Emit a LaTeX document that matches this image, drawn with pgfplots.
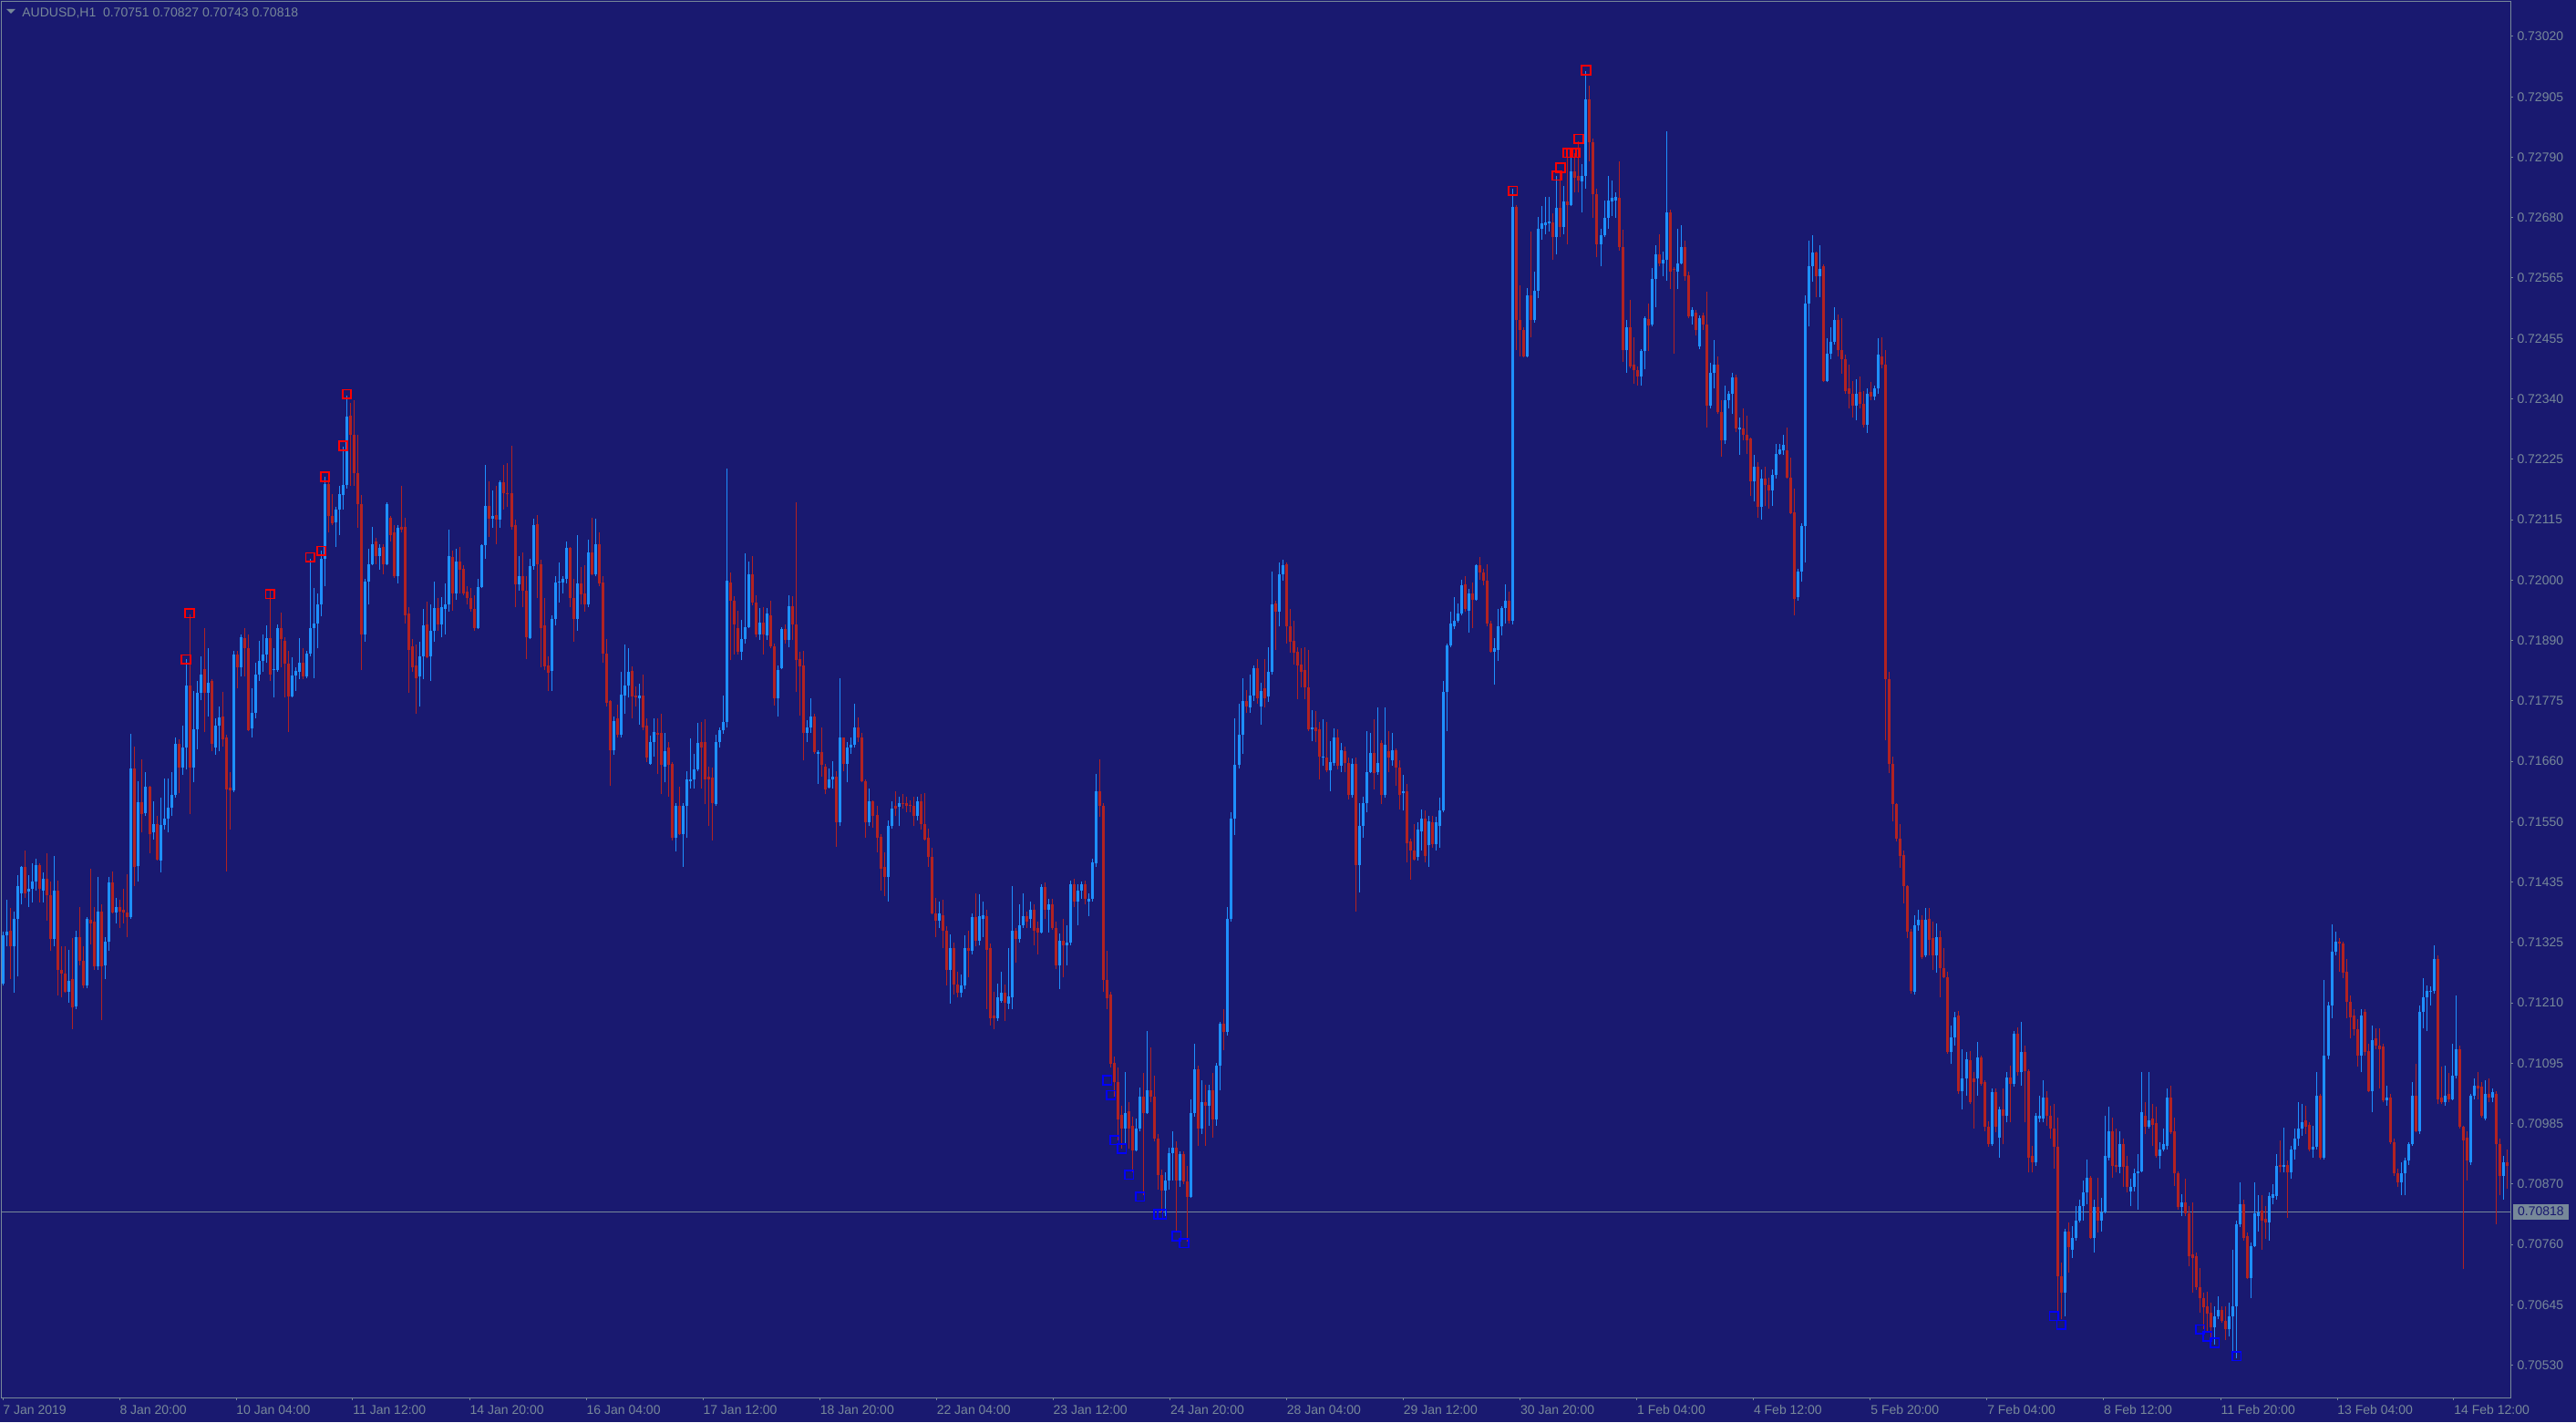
\documentclass[border=0pt]{standalone}
\usepackage{fontspec}
\setmainfont{Liberation Sans}
\usepackage{pgfplots}
\usepackage{pgfplotstable}
\pgfplotsset{compat=1.18}
\definecolor{bgcol}{RGB}{25,25,112}
\definecolor{fgcol}{RGB}{119,136,153}
\definecolor{bullc}{RGB}{30,144,255}
\definecolor{bearc}{RGB}{178,34,34}
\pgfplotstableread{
o h l c
0.71245 0.71342 0.71241 0.71336
0.71336 0.71402 0.71315 0.71342
0.71345 0.71387 0.71254 0.71315
0.71315 0.71380 0.71228 0.71367
0.71367 0.71448 0.71258 0.71428
0.71415 0.71465 0.71393 0.71463
0.71463 0.71494 0.71406 0.71415
0.71417 0.71448 0.71389 0.71423
0.71423 0.71471 0.71397 0.71436
0.71436 0.71480 0.71419 0.71467
0.71467 0.71471 0.71397 0.71423
0.71420 0.71454 0.71397 0.71441
0.71441 0.71489 0.71363 0.71411
0.71411 0.71436 0.71306 0.71328
0.71328 0.71484 0.71315 0.71420
0.71420 0.71438 0.71223 0.71271
0.71271 0.71315 0.71219 0.71264
0.71264 0.71315 0.71228 0.71230
0.71230 0.71309 0.71210 0.71251
0.71254 0.71330 0.71160 0.71200
0.71202 0.71345 0.71198 0.71332
0.71332 0.71389 0.71280 0.71287
0.71287 0.71315 0.71236 0.71241
0.71241 0.71369 0.71236 0.71367
0.71365 0.71460 0.71319 0.71358
0.71361 0.71389 0.71271 0.71277
0.71277 0.71445 0.71271 0.71380
0.71380 0.71393 0.71177 0.71277
0.71280 0.71332 0.71254 0.71323
0.71323 0.71445 0.71306 0.71435
0.71435 0.71456 0.71376 0.71378
0.71378 0.71406 0.71358 0.71389
0.71389 0.71402 0.71350 0.71380
0.71384 0.71423 0.71358 0.71378
0.71378 0.71450 0.71332 0.71369
0.71369 0.71713 0.71367 0.71649
0.71649 0.71690 0.71428 0.71463
0.71465 0.71624 0.71436 0.71585
0.71585 0.71665 0.71528 0.71563
0.71565 0.71642 0.71559 0.71614
0.71614 0.71615 0.71489 0.71526
0.71528 0.71587 0.71515 0.71544
0.71544 0.71559 0.71476 0.71478
0.71476 0.71594 0.71454 0.71543
0.71543 0.71629 0.71533 0.71554
0.71554 0.71629 0.71528 0.71574
0.71574 0.71642 0.71559 0.71598
0.71598 0.71707 0.71594 0.71694
0.71694 0.71703 0.71602 0.71650
0.71650 0.71729 0.71637 0.71688
0.71688 0.71853 0.71646 0.71803
0.71803 0.71937 0.71563 0.71650
0.71650 0.71794 0.71622 0.71722
0.71722 0.71812 0.71685 0.71790
0.71790 0.71859 0.71777 0.71825
0.71835 0.71912 0.71716 0.71790
0.71790 0.71873 0.71746 0.71809
0.71812 0.71815 0.71681 0.71694
0.71688 0.71742 0.71674 0.71729
0.71729 0.71764 0.71681 0.71744
0.71746 0.71791 0.71690 0.71703
0.71707 0.71711 0.71456 0.71609
0.71613 0.71642 0.71533 0.71607
0.71607 0.71868 0.71604 0.71862
0.71862 0.71868 0.71798 0.71838
0.71838 0.71899 0.71820 0.71894
0.71892 0.71912 0.71820 0.71873
0.71873 0.71899 0.71718 0.71720
0.71723 0.71798 0.71707 0.71753
0.71753 0.71846 0.71742 0.71824
0.71824 0.71888 0.71812 0.71850
0.71850 0.71899 0.71829 0.71862
0.71862 0.71916 0.71846 0.71892
0.71893 0.71984 0.71813 0.71825
0.71832 0.71873 0.71781 0.71835
0.71832 0.71918 0.71829 0.71912
0.71912 0.71940 0.71838 0.71890
0.71888 0.71894 0.71781 0.71844
0.71844 0.71868 0.71717 0.71783
0.71783 0.71857 0.71781 0.71822
0.71822 0.71838 0.71794 0.71831
0.71829 0.71892 0.71816 0.71846
0.71846 0.71873 0.71816 0.71820
0.71820 0.71868 0.71818 0.71864
0.71864 0.72042 0.71859 0.71912
0.71912 0.71986 0.71818 0.71920
0.71920 0.71977 0.71873 0.71955
0.71955 0.72056 0.71934 0.72042
0.72042 0.72195 0.71990 0.72182
0.72182 0.72186 0.72090 0.72121
0.72121 0.72162 0.72104 0.72108
0.72110 0.72138 0.72064 0.72134
0.72134 0.72178 0.72086 0.72162
0.72160 0.72252 0.72134 0.72179
0.72179 0.72347 0.72173 0.72308
0.72310 0.72334 0.72178 0.72273
0.72273 0.72339 0.72178 0.72202
0.72202 0.72273 0.72099 0.72144
0.72144 0.72160 0.71833 0.71899
0.71899 0.72003 0.71886 0.71999
0.71999 0.72060 0.71955 0.72031
0.72031 0.72101 0.72029 0.72069
0.72073 0.72080 0.72031 0.72047
0.72047 0.72069 0.72021 0.72062
0.72064 0.72069 0.72012 0.72031
0.72031 0.72147 0.72029 0.72143
0.72118 0.72121 0.72073 0.72086
0.72090 0.72104 0.72006 0.72008
0.72008 0.72104 0.71995 0.72099
0.72101 0.72178 0.72090 0.72095
0.72101 0.72118 0.71920 0.71935
0.71938 0.71951 0.71790 0.71871
0.71877 0.71890 0.71829 0.71838
0.71842 0.71881 0.71751 0.71818
0.71820 0.71886 0.71764 0.71859
0.71859 0.71947 0.71816 0.71916
0.71918 0.71961 0.71855 0.71857
0.71859 0.71955 0.71812 0.71906
0.71906 0.71999 0.71886 0.71949
0.71949 0.71968 0.71907 0.71918
0.71918 0.71970 0.71894 0.71951
0.71947 0.71995 0.71899 0.71955
0.71955 0.72095 0.71942 0.72047
0.72044 0.72056 0.71944 0.71977
0.71977 0.72060 0.71964 0.72036
0.72036 0.72064 0.71977 0.72021
0.72022 0.72029 0.71973 0.71977
0.71980 0.71990 0.71955 0.71968
0.71968 0.71986 0.71942 0.71948
0.71948 0.71973 0.71906 0.71912
0.71912 0.72003 0.71909 0.71988
0.71988 0.72069 0.71986 0.72067
0.72067 0.72217 0.72042 0.72140
0.72140 0.72186 0.72082 0.72117
0.72117 0.72169 0.72099 0.72121
0.72124 0.72178 0.72069 0.72115
0.72115 0.72188 0.72099 0.72185
0.72185 0.72217 0.72134 0.72164
0.72164 0.72221 0.72138 0.72162
0.72164 0.72253 0.72095 0.72101
0.72104 0.72115 0.71951 0.71993
0.71993 0.72047 0.71981 0.72008
0.72008 0.72053 0.71951 0.71981
0.71981 0.72008 0.71853 0.71894
0.71892 0.72042 0.71890 0.72028
0.72028 0.72117 0.72021 0.72104
0.72106 0.72124 0.71968 0.72031
0.72031 0.72040 0.71838 0.71912
0.71916 0.71968 0.71833 0.71839
0.71842 0.71859 0.71794 0.71827
0.71831 0.71935 0.71794 0.71929
0.71929 0.72008 0.71916 0.71996
0.71996 0.72034 0.71960 0.71999
0.71996 0.72009 0.71977 0.72003
0.72003 0.72073 0.71995 0.72062
0.72062 0.72064 0.71951 0.71968
0.71968 0.72003 0.71886 0.71929
0.71929 0.72086 0.71907 0.71995
0.71995 0.72025 0.71955 0.71975
0.71977 0.72029 0.71942 0.71955
0.71955 0.72077 0.71951 0.72053
0.72053 0.72118 0.72010 0.72012
0.72012 0.72117 0.72008 0.72069
0.72069 0.72090 0.71990 0.71995
0.71996 0.72008 0.71846 0.71864
0.71864 0.71890 0.71764 0.71772
0.71775 0.71777 0.71615 0.71683
0.71683 0.71746 0.71674 0.71737
0.71742 0.71768 0.71707 0.71711
0.71711 0.71829 0.71707 0.71787
0.71785 0.71881 0.71751 0.71803
0.71803 0.71874 0.71781 0.71829
0.71831 0.71839 0.71742 0.71784
0.71785 0.71802 0.71764 0.71782
0.71780 0.71807 0.71731 0.71785
0.71785 0.71824 0.71720 0.71726
0.71729 0.71742 0.71660 0.71668
0.71657 0.71709 0.71655 0.71698
0.71698 0.71742 0.71671 0.71717
0.71715 0.71742 0.71638 0.71711
0.71715 0.71750 0.71600 0.71655
0.71652 0.71715 0.71622 0.71680
0.71687 0.71698 0.71595 0.71655
0.71657 0.71660 0.71513 0.71518
0.71518 0.71584 0.71493 0.71578
0.71578 0.71614 0.71524 0.71526
0.71526 0.71584 0.71464 0.71578
0.71578 0.71644 0.71518 0.71627
0.71624 0.71704 0.71611 0.71627
0.71627 0.71676 0.71611 0.71647
0.71647 0.71733 0.71644 0.71696
0.71698 0.71736 0.71611 0.71687
0.71698 0.71740 0.71581 0.71627
0.71633 0.71652 0.71540 0.71627
0.71631 0.71650 0.71513 0.71584
0.71581 0.71711 0.71578 0.71698
0.71698 0.71726 0.71687 0.71720
0.71720 0.71785 0.71714 0.71736
0.71736 0.72210 0.71726 0.72000
0.71996 0.72016 0.71851 0.71963
0.71963 0.71971 0.71862 0.71919
0.71911 0.71943 0.71862 0.71867
0.71867 0.71927 0.71851 0.71891
0.71891 0.72052 0.71883 0.71913
0.71913 0.72036 0.71911 0.72012
0.72012 0.72047 0.71954 0.71960
0.71960 0.71973 0.71894 0.71900
0.71900 0.71949 0.71889 0.71922
0.71922 0.71951 0.71862 0.71900
0.71898 0.71949 0.71889 0.71938
0.71935 0.71963 0.71873 0.71878
0.71878 0.71883 0.71766 0.71780
0.71780 0.71842 0.71745 0.71832
0.71836 0.71913 0.71834 0.71910
0.71910 0.71919 0.71883 0.71889
0.71889 0.71973 0.71876 0.71952
0.71952 0.71971 0.71889 0.71918
0.71918 0.72147 0.71791 0.71851
0.71854 0.71867 0.71747 0.71840
0.71842 0.71869 0.71663 0.71715
0.71715 0.71739 0.71698 0.71726
0.71726 0.71780 0.71715 0.71745
0.71745 0.71750 0.71676 0.71679
0.71676 0.71683 0.71620 0.71679
0.71679 0.71726 0.71633 0.71655
0.71652 0.71657 0.71600 0.71609
0.71613 0.71649 0.71611 0.71627
0.71627 0.71662 0.71611 0.71633
0.71633 0.71644 0.71502 0.71548
0.71548 0.71818 0.71540 0.71706
0.71706 0.71707 0.71644 0.71657
0.71657 0.71698 0.71622 0.71687
0.71687 0.71707 0.71676 0.71693
0.71693 0.71769 0.71687 0.71726
0.71726 0.71744 0.71698 0.71707
0.71707 0.71715 0.71622 0.71624
0.71624 0.71627 0.71518 0.71548
0.71548 0.71611 0.71540 0.71587
0.71587 0.71589 0.71537 0.71559
0.71562 0.71578 0.71491 0.71518
0.71521 0.71526 0.71420 0.71461
0.71464 0.71491 0.71409 0.71445
0.71445 0.71551 0.71399 0.71540
0.71540 0.71587 0.71535 0.71573
0.71578 0.71606 0.71559 0.71573
0.71576 0.71595 0.71540 0.71584
0.71584 0.71600 0.71573 0.71581
0.71584 0.71595 0.71567 0.71578
0.71580 0.71589 0.71567 0.71579
0.71578 0.71595 0.71540 0.71559
0.71559 0.71595 0.71551 0.71587
0.71587 0.71600 0.71533 0.71544
0.71544 0.71602 0.71513 0.71515
0.71518 0.71535 0.71464 0.71482
0.71482 0.71500 0.71375 0.71377
0.71377 0.71406 0.71333 0.71363
0.71363 0.71399 0.71350 0.71377
0.71374 0.71402 0.71311 0.71344
0.71344 0.71352 0.71241 0.71271
0.71271 0.71337 0.71208 0.71311
0.71311 0.71322 0.71224 0.71243
0.71243 0.71268 0.71219 0.71228
0.71228 0.71263 0.71219 0.71241
0.71241 0.71336 0.71235 0.71311
0.71311 0.71344 0.71257 0.71306
0.71306 0.71377 0.71300 0.71369
0.71369 0.71415 0.71315 0.71326
0.71326 0.71413 0.71317 0.71372
0.71366 0.71399 0.71333 0.71374
0.71372 0.71383 0.71197 0.71309
0.71311 0.71320 0.71167 0.71181
0.71186 0.71230 0.71159 0.71181
0.71181 0.71246 0.71175 0.71219
0.71213 0.71268 0.71210 0.71228
0.71228 0.71243 0.71175 0.71210
0.71208 0.71311 0.71197 0.71221
0.71219 0.71428 0.71197 0.71344
0.71344 0.71350 0.71284 0.71328
0.71328 0.71393 0.71322 0.71355
0.71355 0.71415 0.71350 0.71372
0.71372 0.71380 0.71350 0.71361
0.71366 0.71399 0.71350 0.71383
0.71383 0.71393 0.71317 0.71344
0.71350 0.71361 0.71300 0.71341
0.71341 0.71431 0.71339 0.71426
0.71426 0.71435 0.71366 0.71383
0.71383 0.71404 0.71341 0.71393
0.71393 0.71404 0.71346 0.71350
0.71350 0.71361 0.71273 0.71279
0.71279 0.71339 0.71235 0.71326
0.71326 0.71366 0.71257 0.71317
0.71317 0.71355 0.71279 0.71322
0.71322 0.71439 0.71317 0.71431
0.71431 0.71442 0.71388 0.71399
0.71399 0.71431 0.71355 0.71420
0.71420 0.71437 0.71404 0.71431
0.71431 0.71439 0.71393 0.71404
0.71399 0.71415 0.71372 0.71404
0.71404 0.71480 0.71399 0.71472
0.71470 0.71638 0.71464 0.71606
0.71606 0.71666 0.71557 0.71578
0.71578 0.71584 0.71230 0.71252
0.71252 0.71306 0.71197 0.71217
0.71224 0.71230 0.71088 0.71094
0.71097 0.71108 0.71034 0.71061
0.71061 0.71088 0.70952 0.70990
0.70999 0.71017 0.70936 0.70974
0.70974 0.71080 0.70947 0.71003
0.71006 0.71023 0.70936 0.70974
0.70979 0.70995 0.70892 0.70932
0.70932 0.70992 0.70930 0.70974
0.70974 0.71050 0.70968 0.71034
0.71034 0.71078 0.70848 0.71003
0.71003 0.71156 0.71001 0.71045
0.71045 0.71126 0.71023 0.71034
0.71034 0.71072 0.70949 0.70955
0.70955 0.70963 0.70859 0.70887
0.70887 0.70897 0.70816 0.70857
0.70857 0.70892 0.70810 0.70876
0.70876 0.70938 0.70859 0.70927
0.70927 0.70968 0.70876 0.70938
0.70938 0.70949 0.70778 0.70876
0.70876 0.70930 0.70865 0.70925
0.70925 0.70930 0.70870 0.70874
0.70874 0.70903 0.70761 0.70846
0.70846 0.71028 0.70843 0.71003
0.71003 0.71132 0.70996 0.71085
0.71085 0.71091 0.70941 0.70974
0.70974 0.71064 0.70963 0.71023
0.71023 0.71056 0.70941 0.71017
0.71017 0.71056 0.70979 0.71045
0.71045 0.71078 0.70957 0.70990
0.70990 0.71097 0.70979 0.71091
0.71091 0.71173 0.71045 0.71170
0.71170 0.71197 0.71121 0.71154
0.71154 0.71388 0.71148 0.71366
0.71366 0.71567 0.71361 0.71554
0.71554 0.71742 0.71524 0.71655
0.71655 0.71769 0.71649 0.71711
0.71711 0.71818 0.71676 0.71775
0.71775 0.71796 0.71753 0.71764
0.71762 0.71824 0.71753 0.71785
0.71785 0.71842 0.71775 0.71837
0.71837 0.71853 0.71769 0.71780
0.71764 0.71809 0.71731 0.71793
0.71798 0.71854 0.71762 0.71780
0.71784 0.71876 0.71773 0.71829
0.71829 0.72018 0.71824 0.71956
0.71958 0.71963 0.71871 0.71942
0.71942 0.72034 0.71914 0.72012
0.72012 0.72040 0.72001 0.72029
0.72031 0.72034 0.71882 0.71914
0.71914 0.71947 0.71865 0.71885
0.71887 0.71925 0.71843 0.71865
0.71867 0.71876 0.71778 0.71841
0.71843 0.71874 0.71800 0.71830
0.71833 0.71876 0.71778 0.71800
0.71800 0.71871 0.71718 0.71721
0.71721 0.71758 0.71700 0.71726
0.71726 0.71756 0.71697 0.71718
0.71721 0.71735 0.71628 0.71671
0.71669 0.71740 0.71653 0.71671
0.71669 0.71735 0.71642 0.71645
0.71645 0.71700 0.71606 0.71660
0.71658 0.71724 0.71653 0.71707
0.71707 0.71721 0.71647 0.71653
0.71653 0.71696 0.71642 0.71682
0.71680 0.71689 0.71642 0.71658
0.71658 0.71669 0.71591 0.71598
0.71598 0.71667 0.71593 0.71656
0.71656 0.71669 0.71380 0.71468
0.71468 0.71584 0.71416 0.71541
0.71541 0.71595 0.71519 0.71584
0.71584 0.71718 0.71566 0.71642
0.71642 0.71715 0.71639 0.71678
0.71678 0.71740 0.71609 0.71639
0.71642 0.71762 0.71637 0.71658
0.71696 0.71702 0.71582 0.71598
0.71598 0.71762 0.71593 0.71693
0.71680 0.71718 0.71642 0.71669
0.71664 0.71715 0.71653 0.71682
0.71682 0.71686 0.71615 0.71650
0.71650 0.71664 0.71571 0.71598
0.71602 0.71637 0.71569 0.71606
0.71606 0.71620 0.71473 0.71509
0.71511 0.71517 0.71440 0.71495
0.71495 0.71544 0.71475 0.71478
0.71482 0.71547 0.71475 0.71533
0.71530 0.71571 0.71495 0.71555
0.71555 0.71569 0.71473 0.71484
0.71504 0.71560 0.71464 0.71549
0.71547 0.71560 0.71500 0.71506
0.71506 0.71558 0.71495 0.71547
0.71540 0.71593 0.71500 0.71569
0.71569 0.71813 0.71566 0.71791
0.71791 0.71882 0.71718 0.71879
0.71879 0.71942 0.71876 0.71920
0.71914 0.71969 0.71909 0.71925
0.71925 0.71958 0.71922 0.71938
0.71938 0.72002 0.71936 0.71991
0.71994 0.72009 0.71942 0.71947
0.71944 0.71985 0.71903 0.71976
0.71976 0.71996 0.71911 0.71965
0.71965 0.72031 0.71963 0.72029
0.72029 0.72045 0.72002 0.72016
0.72016 0.72023 0.71991 0.72001
0.72001 0.72031 0.71914 0.71920
0.71920 0.71925 0.71865 0.71867
0.71867 0.71893 0.71805 0.71874
0.71871 0.71947 0.71849 0.71914
0.71914 0.71953 0.71898 0.71949
0.71949 0.71994 0.71920 0.71963
0.71963 0.71980 0.71920 0.71925
0.71925 0.72735 0.71918 0.72701
0.72701 0.72704 0.72432 0.72488
0.72488 0.72554 0.72421 0.72470
0.72470 0.72475 0.72418 0.72421
0.72421 0.72549 0.72418 0.72535
0.72535 0.72655 0.72456 0.72488
0.72488 0.72579 0.72484 0.72543
0.72543 0.72682 0.72530 0.72660
0.72660 0.72702 0.72639 0.72669
0.72666 0.72720 0.72650 0.72671
0.72669 0.72720 0.72655 0.72674
0.72671 0.72688 0.72601 0.72644
0.72644 0.72759 0.72611 0.72699
0.72699 0.72769 0.72644 0.72663
0.72663 0.72739 0.72650 0.72710
0.72710 0.72797 0.72630 0.72704
0.72704 0.72799 0.72702 0.72767
0.72767 0.72802 0.72728 0.72756
0.72759 0.72824 0.72728 0.72750
0.72748 0.72780 0.72691 0.72759
0.72759 0.72955 0.72735 0.72902
0.72902 0.72927 0.72786 0.72822
0.72822 0.72829 0.72680 0.72724
0.72724 0.72735 0.72606 0.72631
0.72631 0.72660 0.72590 0.72647
0.72647 0.72713 0.72644 0.72680
0.72680 0.72759 0.72660 0.72713
0.72710 0.72750 0.72684 0.72717
0.72713 0.72728 0.72680 0.72720
0.72717 0.72786 0.72619 0.72626
0.72626 0.72658 0.72410 0.72432
0.72432 0.72488 0.72390 0.72475
0.72475 0.72526 0.72399 0.72401
0.72405 0.72456 0.72369 0.72394
0.72394 0.72401 0.72366 0.72383
0.72383 0.72434 0.72366 0.72430
0.72430 0.72495 0.72397 0.72492
0.72490 0.72519 0.72430 0.72479
0.72481 0.72586 0.72477 0.72565
0.72565 0.72628 0.72513 0.72611
0.72611 0.72650 0.72590 0.72595
0.72595 0.72617 0.72571 0.72601
0.72601 0.72842 0.72562 0.72691
0.72691 0.72695 0.72546 0.72579
0.72584 0.72588 0.72426 0.72582
0.72579 0.72660 0.72546 0.72595
0.72595 0.72666 0.72593 0.72626
0.72626 0.72637 0.72562 0.72571
0.72573 0.72579 0.72492 0.72495
0.72495 0.72513 0.72481 0.72508
0.72503 0.72508 0.72459 0.72470
0.72440 0.72497 0.72434 0.72492
0.72497 0.72503 0.72470 0.72481
0.72481 0.72541 0.72287 0.72328
0.72328 0.72408 0.72323 0.72390
0.72390 0.72451 0.72361 0.72405
0.72405 0.72421 0.72312 0.72317
0.72317 0.72339 0.72233 0.72263
0.72263 0.72366 0.72257 0.72339
0.72339 0.72356 0.72323 0.72350
0.72350 0.72390 0.72312 0.72381
0.72381 0.72386 0.72279 0.72285
0.72284 0.72306 0.72236 0.72287
0.72285 0.72323 0.72263 0.72274
0.72274 0.72310 0.72238 0.72263
0.72266 0.72268 0.72159 0.72187
0.72187 0.72236 0.72149 0.72214
0.72214 0.72223 0.72118 0.72138
0.72138 0.72208 0.72114 0.72192
0.72192 0.72214 0.72140 0.72179
0.72179 0.72194 0.72135 0.72170
0.72170 0.72208 0.72140 0.72198
0.72198 0.72257 0.72192 0.72238
0.72238 0.72257 0.72236 0.72246
0.72244 0.72274 0.72236 0.72255
0.72244 0.72288 0.72192 0.72194
0.72194 0.72230 0.72125 0.72127
0.72129 0.72172 0.71936 0.71966
0.71969 0.72023 0.71963 0.72018
0.72018 0.72107 0.71998 0.72103
0.72103 0.72535 0.72034 0.72519
0.72519 0.72637 0.72477 0.72590
0.72590 0.72647 0.72560 0.72615
0.72615 0.72617 0.72532 0.72571
0.72571 0.72628 0.72532 0.72584
0.72590 0.72593 0.72372 0.72375
0.72375 0.72454 0.72372 0.72426
0.72426 0.72475 0.72415 0.72448
0.72448 0.72513 0.72443 0.72488
0.72488 0.72499 0.72421 0.72432
0.72432 0.72492 0.72388 0.72415
0.72415 0.72423 0.72350 0.72355
0.72361 0.72405 0.72323 0.72350
0.72350 0.72375 0.72306 0.72328
0.72328 0.72377 0.72301 0.72350
0.72353 0.72383 0.72323 0.72331
0.72331 0.72355 0.72288 0.72292
0.72292 0.72361 0.72277 0.72350
0.72353 0.72372 0.72339 0.72345
0.72345 0.72366 0.72339 0.72361
0.72361 0.72454 0.72350 0.72423
0.72421 0.72456 0.72399 0.72405
0.72405 0.72432 0.71702 0.71816
0.71816 0.71830 0.71639 0.71656
0.71656 0.71671 0.71549 0.71582
0.71582 0.71584 0.71511 0.71517
0.71517 0.71544 0.71462 0.71484
0.71486 0.71495 0.71395 0.71428
0.71428 0.71430 0.71330 0.71342
0.71342 0.71348 0.71227 0.71232
0.71230 0.71374 0.71224 0.71355
0.71355 0.71383 0.71345 0.71365
0.71365 0.71374 0.71292 0.71295
0.71298 0.71387 0.71295 0.71365
0.71367 0.71387 0.71298 0.71327
0.71330 0.71361 0.71270 0.71298
0.71298 0.71358 0.71265 0.71333
0.71333 0.71345 0.71220 0.71274
0.71274 0.71311 0.71255 0.71257
0.71257 0.71267 0.71114 0.71117
0.71117 0.71167 0.71094 0.71144
0.71144 0.71192 0.71129 0.71182
0.71185 0.71194 0.71039 0.71044
0.71044 0.71123 0.71009 0.71067
0.71067 0.71117 0.71035 0.71104
0.71102 0.71119 0.71019 0.71023
0.71067 0.71079 0.70973 0.71060
0.71067 0.71135 0.71035 0.71107
0.71107 0.71110 0.71054 0.71057
0.71060 0.71064 0.70969 0.70977
0.70977 0.70988 0.70939 0.70944
0.70944 0.71048 0.70941 0.71042
0.71042 0.71048 0.70967 0.70977
0.70957 0.71014 0.70919 0.71010
0.71010 0.71048 0.70944 0.70998
0.70998 0.71079 0.70985 0.71069
0.71069 0.71092 0.70985 0.71057
0.71057 0.71157 0.71052 0.71152
0.71152 0.71164 0.71073 0.71079
0.71079 0.71173 0.71054 0.71117
0.71117 0.71129 0.70985 0.71082
0.71082 0.71085 0.70891 0.70919
0.70923 0.70941 0.70891 0.70910
0.70910 0.71002 0.70904 0.70998
0.70992 0.71035 0.70985 0.70998
0.70992 0.71064 0.70985 0.71032
0.71032 0.71044 0.70979 0.70998
0.70998 0.71017 0.70954 0.70973
0.70973 0.71019 0.70898 0.70939
0.70939 0.70994 0.70628 0.70697
0.70697 0.70722 0.70616 0.70666
0.70666 0.70785 0.70622 0.70781
0.70781 0.70797 0.70703 0.70751
0.70747 0.70791 0.70731 0.70769
0.70769 0.70829 0.70764 0.70801
0.70801 0.70841 0.70797 0.70829
0.70829 0.70876 0.70801 0.70854
0.70854 0.70916 0.70831 0.70881
0.70881 0.70885 0.70766 0.70769
0.70769 0.70841 0.70741 0.70826
0.70826 0.70881 0.70779 0.70801
0.70801 0.70844 0.70781 0.70816
0.70816 0.70998 0.70814 0.70923
0.70919 0.71014 0.70914 0.70969
0.70969 0.70994 0.70881 0.70904
0.70906 0.70973 0.70891 0.70901
0.70901 0.70969 0.70889 0.70944
0.70944 0.70954 0.70864 0.70901
0.70904 0.70923 0.70854 0.70864
0.70856 0.70879 0.70829 0.70864
0.70864 0.70898 0.70856 0.70889
0.70889 0.70926 0.70822 0.70894
0.70894 0.71079 0.70891 0.71004
0.70998 0.71023 0.70964 0.70977
0.70977 0.71079 0.70973 0.70989
0.70992 0.71019 0.70941 0.70981
0.70984 0.71014 0.70919 0.70923
0.70923 0.70948 0.70898 0.70935
0.70935 0.70973 0.70931 0.70944
0.70941 0.71048 0.70935 0.71032
0.71032 0.71054 0.70964 0.70967
0.70969 0.70994 0.70866 0.70889
0.70889 0.70894 0.70822 0.70826
0.70826 0.70851 0.70810 0.70835
0.70835 0.70879 0.70810 0.70814
0.70814 0.70829 0.70716 0.70735
0.70738 0.70835 0.70666 0.70731
0.70735 0.70741 0.70672 0.70676
0.70676 0.70713 0.70628 0.70656
0.70656 0.70666 0.70597 0.70638
0.70641 0.70668 0.70591 0.70626
0.70628 0.70647 0.70578 0.70601
0.70601 0.70641 0.70568 0.70622
0.70622 0.70660 0.70616 0.70634
0.70634 0.70641 0.70609 0.70613
0.70613 0.70641 0.70578 0.70597
0.70597 0.70647 0.70584 0.70622
0.70622 0.70747 0.70553 0.70641
0.70641 0.70801 0.70543 0.70794
0.70794 0.70873 0.70789 0.70831
0.70831 0.70841 0.70764 0.70769
0.70772 0.70779 0.70691 0.70693
0.70693 0.70760 0.70656 0.70754
0.70754 0.70873 0.70751 0.70814
0.70810 0.70848 0.70781 0.70816
0.70819 0.70848 0.70747 0.70801
0.70804 0.70829 0.70766 0.70797
0.70797 0.70854 0.70764 0.70847
0.70844 0.70869 0.70831 0.70851
0.70847 0.70926 0.70841 0.70904
0.70906 0.70951 0.70891 0.70901
0.70901 0.70976 0.70891 0.70906
0.70906 0.70914 0.70806 0.70891
0.70891 0.70941 0.70879 0.70935
0.70935 0.70973 0.70916 0.70954
0.70954 0.71023 0.70941 0.70973
0.70973 0.71019 0.70960 0.70985
0.70989 0.71017 0.70964 0.70977
0.70981 0.70985 0.70931 0.70935
0.70935 0.70979 0.70919 0.70939
0.70939 0.71079 0.70935 0.71035
0.71035 0.71039 0.70916 0.70919
0.70919 0.71252 0.70916 0.71111
0.71111 0.71211 0.71104 0.71204
0.71204 0.71357 0.71180 0.71305
0.71305 0.71342 0.71298 0.71324
0.71324 0.71330 0.71267 0.71320
0.71320 0.71324 0.71255 0.71265
0.71267 0.71292 0.71180 0.71211
0.71211 0.71223 0.71142 0.71182
0.71185 0.71198 0.71148 0.71160
0.71160 0.71179 0.71089 0.71111
0.71111 0.71198 0.71079 0.71185
0.71192 0.71198 0.71111 0.71117
0.71119 0.71132 0.71042 0.71044
0.71044 0.71167 0.71004 0.71139
0.71142 0.71161 0.71123 0.71129
0.71129 0.71161 0.71048 0.71123
0.71127 0.71132 0.71023 0.71027
0.71027 0.71054 0.71017 0.71032
0.71032 0.71039 0.70944 0.70948
0.70948 0.70954 0.70885 0.70889
0.70889 0.70898 0.70864 0.70873
0.70873 0.70910 0.70848 0.70889
0.70889 0.70919 0.70848 0.70914
0.70914 0.70948 0.70906 0.70944
0.70944 0.71060 0.70941 0.71035
0.71035 0.71094 0.70967 0.70969
0.70969 0.71204 0.70964 0.71192
0.71192 0.71255 0.71161 0.71220
0.71220 0.71242 0.71157 0.71232
0.71230 0.71240 0.71204 0.71232
0.71232 0.71317 0.71227 0.71292
0.71292 0.71298 0.71019 0.71029
0.71032 0.71089 0.71019 0.71023
0.71023 0.71092 0.71017 0.71035
0.71039 0.71077 0.71023 0.71029
0.71029 0.71132 0.71027 0.71073
0.71073 0.71223 0.71067 0.71123
0.71123 0.71129 0.70973 0.70977
0.70977 0.70979 0.70710 0.70951
0.70957 0.70969 0.70876 0.70914
0.70910 0.71039 0.70906 0.71035
0.71035 0.71067 0.71029 0.71054
0.71054 0.71079 0.71029 0.71048
0.71052 0.71060 0.70994 0.70998
0.70992 0.71064 0.70989 0.71039
0.71039 0.71067 0.71023 0.71032
0.71032 0.71048 0.71023 0.71042
0.71039 0.71044 0.70794 0.70944
0.70944 0.70954 0.70848 0.70885
0.70885 0.70923 0.70841 0.70910
0.70910 0.70935 0.70860 0.70904
}\candles
\begin{document}
\begin{tikzpicture}
\useasboundingbox (-1pt,-13.5pt) rectangle (1412pt,766.5pt);
\fill[bgcol] (-1pt,-13.5pt) rectangle (1412pt,766.5pt);
\begin{axis}[
  at={(0,0)}, anchor=south west,
  scale only axis, width=1376pt, height=765.5pt,
  xmin=-0.4, xmax=685.9, ymin=0.704696, ymax=0.730849,
  axis line style={draw=fgcol, line width=0.5pt},
  tick style={draw=fgcol, line width=0.5pt},
  tick align=outside, major tick length=1.5pt,
  xtick pos=left, ytick pos=right, yticklabel pos=right,
  xtick={-0.15,31.8,63.7,95.6,127.6,159.5,191.4,223.4,255.3,287.2,319.2,351.1,383.0,415.0,446.9,478.8,510.8,542.7,574.6,606.6,638.5,670.4},
  xticklabels={7 Jan 2019,8 Jan 20:00,10 Jan 04:00,11 Jan 12:00,14 Jan 20:00,16 Jan 04:00,17 Jan 12:00,18 Jan 20:00,22 Jan 04:00,23 Jan 12:00,24 Jan 20:00,28 Jan 04:00,29 Jan 12:00,30 Jan 20:00,1 Feb 04:00,4 Feb 12:00,5 Feb 20:00,7 Feb 04:00,8 Feb 12:00,11 Feb 20:00,13 Feb 04:00,14 Feb 12:00},
  ytick={0.705300,0.706432,0.707564,0.708695,0.709827,0.710959,0.712091,0.713223,0.714355,0.715486,0.716618,0.717750,0.718882,0.720014,0.721145,0.722277,0.723409,0.724541,0.725673,0.726805,0.727936,0.729068,0.730200},
  yticklabels={0.70530,0.70645,0.70760,0.70870,0.70985,0.71095,0.71210,0.71325,0.71435,0.71550,0.71660,0.71775,0.71890,0.72000,0.72115,0.72225,0.72340,0.72455,0.72565,0.72680,0.72790,0.72905,0.73020},
  tick label style={text=fgcol, font=\fontsize{7}{8}\selectfont},
  xticklabel style={anchor=north west, inner sep=0pt, yshift=-2.5pt},
  yticklabel style={anchor=west, inner sep=0pt, xshift=2pt},
]
\addplot[fgcol, line width=0.5pt, forget plot] coordinates {(-0.4,0.70818) (685.9,0.70818)};
% bull wicks
\addplot[draw=none, mark=none, forget plot,
  x filter/.expression={\thisrow{c}>=\thisrow{o} ? x : nan},
  error bars/.cd, y dir=plus, y explicit, error mark=none,
  error bar style={solid, draw=bullc, line width=0.5pt}]
  table[x expr=\coordindex, y=l, y error plus expr={\thisrow{h}-\thisrow{l}}] {\candles};
% bear wicks
\addplot[draw=none, mark=none, forget plot,
  x filter/.expression={\thisrow{c}<\thisrow{o} ? x : nan},
  error bars/.cd, y dir=plus, y explicit, error mark=none,
  error bar style={solid, draw=bearc, line width=0.5pt}]
  table[x expr=\coordindex, y=l, y error plus expr={\thisrow{h}-\thisrow{l}}] {\candles};
% bull bodies
\addplot[draw=none, mark=none, forget plot,
  x filter/.expression={\thisrow{c}>=\thisrow{o} ? x : nan},
  error bars/.cd, y dir=plus, y explicit, error mark=none,
  error bar style={solid, draw=bullc, line width=1.5pt}]
  table[x expr=\coordindex, y=o, y error plus expr={max(\thisrow{c}-\thisrow{o},0.000015)}] {\candles};
% bear bodies
\addplot[draw=none, mark=none, forget plot,
  x filter/.expression={\thisrow{c}<\thisrow{o} ? x : nan},
  error bars/.cd, y dir=plus, y explicit, error mark=none,
  error bar style={solid, draw=bearc, line width=1.5pt}]
  table[x expr=\coordindex, y=c, y error plus expr={max(\thisrow{o}-\thisrow{c},0.000015)}] {\candles};
% red squares at highs
\addplot[only marks, mark=square, mark size=2.4pt, mark options={draw=red, line width=0.85pt, fill=none}, forget plot] coordinates {
(50,0.71853) (51,0.71939) (73,0.71975) (84,0.72044) (87,0.72056) (88,0.72195) (93,0.72253) (94,0.72350)
(413,0.72731) (425,0.72759) (426,0.72774) (428,0.72802) (429,0.72802) (430,0.72802) (431,0.72828) (433,0.72957)};
% blue squares at lows
\addplot[only marks, mark=square, mark size=2.4pt, mark options={draw=blue, line width=0.85pt, fill=none}, forget plot] coordinates {
(302,0.71064) (303,0.71036) (304,0.70952) (306,0.70936) (308,0.70887) (311,0.70846) (316,0.70813) (317,0.70813) (321,0.70772) (323,0.70759)
(561,0.70622) (563,0.70606) (601,0.70597) (603,0.70584) (605,0.70572) (611,0.70547)};
\coordinate (cp) at (axis cs:685.9,0.70818);
\end{axis}
\node[anchor=west, fill=fgcol, text=bgcol, inner xsep=2.8pt, inner ysep=0pt, minimum height=8.5pt, font=\fontsize{7}{8}\selectfont] at ([xshift=1pt]cp) {0.70818};
\fill[fgcol] (2.5pt,761.5pt) -- (7.5pt,761.5pt) -- (5pt,759pt) -- cycle;
\node[anchor=base west, inner sep=0pt, text=fgcol, font=\fontsize{7}{8}\selectfont] at (11pt,757pt) {AUDUSD,H1\ \ 0.70751 0.70827 0.70743 0.70818};
\end{tikzpicture}
\end{document}
